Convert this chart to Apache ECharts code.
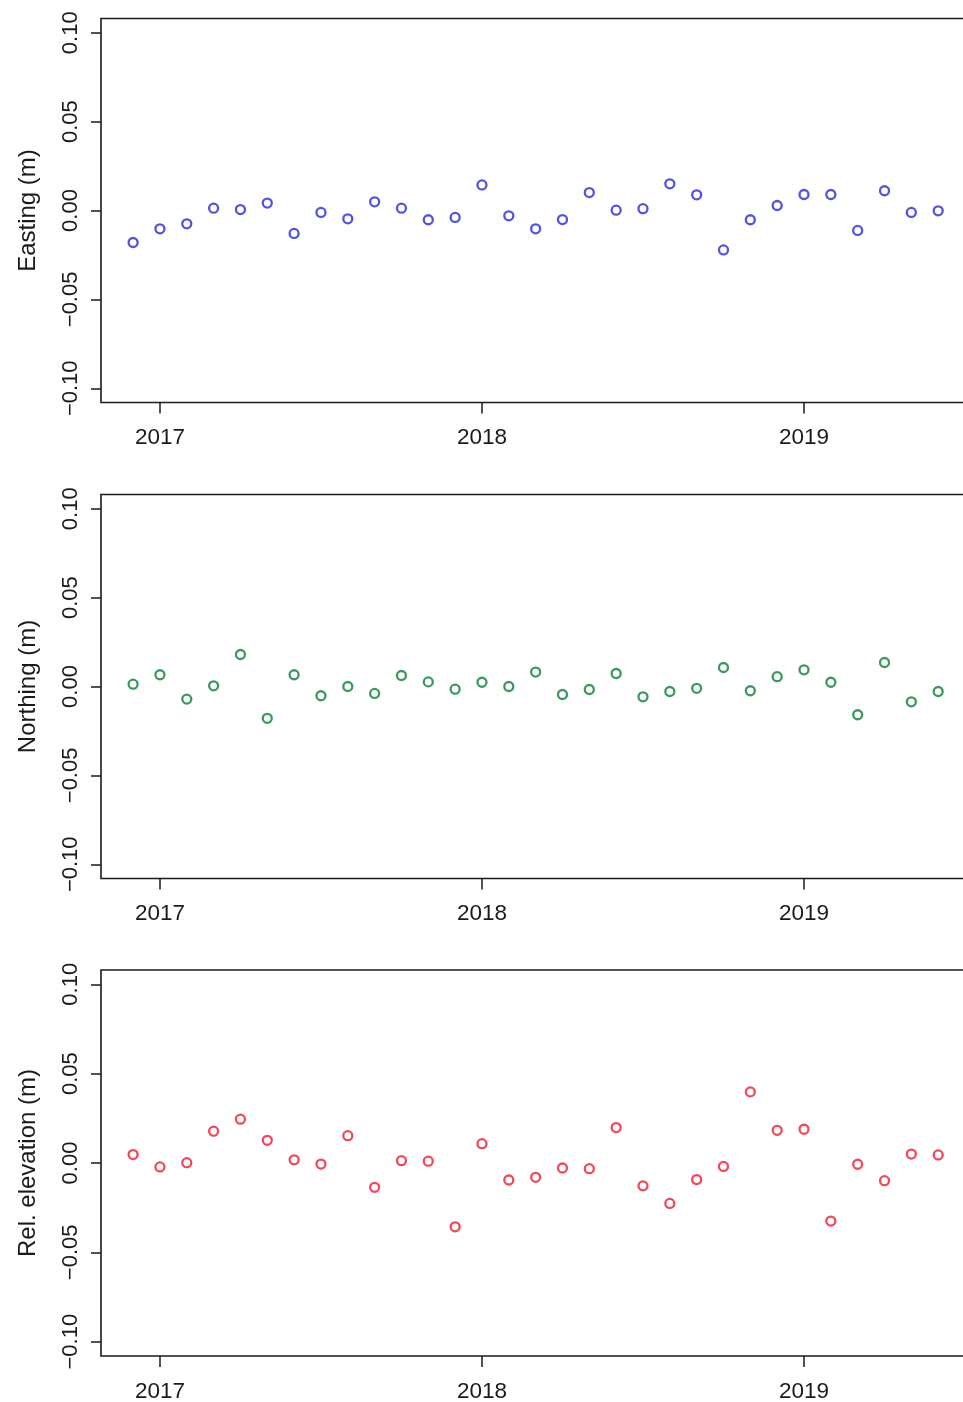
<!DOCTYPE html>
<html>
<head>
<meta charset="utf-8">
<script src="https://cdn.jsdelivr.net/npm/echarts@6/dist/echarts.min.js"></script>
<style>
  html, body { margin: 0; padding: 0; background: #ffffff; }
  #chart { width: 963px; height: 1402px; }
</style>
</head>
<body>
<div id="chart"></div>
<script>
// Monthly survey epochs (year-month)
const months = [
  '2016-12',
  '2017-01', '2017-02', '2017-03', '2017-04', '2017-05', '2017-06',
  '2017-07', '2017-08', '2017-09', '2017-10', '2017-11', '2017-12',
  '2018-01', '2018-02', '2018-03', '2018-04', '2018-05', '2018-06',
  '2018-07', '2018-08', '2018-09', '2018-10', '2018-11', '2018-12',
  '2019-01', '2019-02', '2019-03', '2019-04', '2019-05', '2019-06'
];

// Position residuals (m)
const easting = [
  -0.0180, -0.0103, -0.0075, 0.0013, 0.0005, 0.0042, -0.0129, -0.0011,
  -0.0047, 0.0049, 0.0013, -0.0052, -0.0039, 0.0144, -0.0030, -0.0103,
  -0.0051, 0.0101, 0.0002, 0.0010, 0.0150, 0.0088, -0.0222, -0.0052,
  0.0028, 0.0090, 0.0090, -0.0112, 0.0111, -0.0011, -0.0002
];
const northing = [
  0.0013, 0.0066, -0.0071, 0.0004, 0.0180, -0.0179, 0.0066, -0.0052,
  0.0000, -0.0039, 0.0062, 0.0026, -0.0015, 0.0024, 0.0000, 0.0081,
  -0.0045, -0.0017, 0.0073, -0.0058, -0.0028, -0.0010, 0.0107, -0.0024,
  0.0055, 0.0094, 0.0024, -0.0159, 0.0135, -0.0086, -0.0028
];
const elevation = [
  0.0047, -0.0022, 0.0002, 0.0178, 0.0245, 0.0127, 0.0018, -0.0006,
  0.0153, -0.0136, 0.0013, 0.0010, -0.0357, 0.0108, -0.0095, -0.0080,
  -0.0028, -0.0032, 0.0198, -0.0128, -0.0226, -0.0093, -0.0019, 0.0398,
  0.0183, 0.0189, -0.0325, -0.0007, -0.0099, 0.0050, 0.0045
];

// Axis ticks and their labels
const yearTicks = [2017, 2018, 2019];
const yTicks = [-0.10, -0.05, 0.00, 0.05, 0.10];
const yTickLabels = ['\u22120.10', '\u22120.05', '0.00', '0.05', '0.10'];

const axisNames = ['Easting (m)', 'Northing (m)', 'Rel. elevation (m)'];

function toDecimalYear(m) {
  const parts = m.split('-').map(Number);
  return parts[0] + (parts[1] - 1) / 12;
}
const t = months.map(toDecimalYear);

const FONT = "'Liberation Sans', Arial, Helvetica, sans-serif";
const INK = '#1a1a1a';

const layout = [
  { top: 18.5, height: 384, color: '#2828d4', values: easting },
  { top: 494.5, height: 384, color: '#0b7f36', values: northing },
  { top: 970, height: 386, color: '#ec1c30', values: elevation }
];

const grids = [], xAxes = [], yAxes = [], series = [];

layout.forEach(function (p, i) {
  grids.push({
    left: 101, top: p.top, width: 869.5, height: p.height,
    show: true, borderColor: INK, borderWidth: 1.6,
    backgroundColor: 'transparent', containLabel: false,
    outerBoundsMode: 'none'
  });
  xAxes.push({
    type: 'value', gridIndex: i,
    min: 2016.817, max: 2019.517,
    axisLine: { show: false, onZero: false },
    splitLine: { show: false },
    axisTick: {
      show: true, inside: false, length: 11, customValues: yearTicks,
      lineStyle: { color: INK, width: 1.5 }
    },
    axisLabel: {
      customValues: yearTicks, margin: 24,
      fontFamily: FONT, fontSize: 22.5, color: INK,
      formatter: function (v) { return String(Math.round(v)); }
    }
  });
  yAxes.push({
    type: 'value', gridIndex: i,
    min: -0.108, max: 0.108,
    name: axisNames[i], nameLocation: 'middle', nameRotate: 90, nameGap: 61,
    nameTextStyle: { fontFamily: FONT, fontSize: 24, color: INK },
    axisLine: { show: false, onZero: false },
    splitLine: { show: false },
    axisTick: {
      show: true, inside: false, length: 10, customValues: yTicks,
      lineStyle: { color: INK, width: 1.5 }
    },
    axisLabel: {
      customValues: yTicks, rotate: 90, margin: 19,
      fontFamily: FONT, fontSize: 22, color: INK,
      formatter: function (v) {
        let k = 0;
        yTicks.forEach(function (tv, j) { if (Math.abs(tv - v) < 1e-6) k = j; });
        return yTickLabels[k];
      }
    }
  });
  series.push({
    type: 'scatter', xAxisIndex: i, yAxisIndex: i,
    symbol: 'circle', symbolSize: 9,
    itemStyle: { color: 'rgba(0,0,0,0)', borderColor: p.color, borderWidth: 2.3 },
    emphasis: { disabled: true },
    data: t.map(function (x, k) { return [x, p.values[k]]; })
  });
});

const chart = echarts.init(document.getElementById('chart'), null, { renderer: 'canvas' });
chart.setOption({
  animation: false,
  backgroundColor: '#ffffff',
  grid: grids,
  xAxis: xAxes,
  yAxis: yAxes,
  series: series
});
</script>
</body>
</html>
